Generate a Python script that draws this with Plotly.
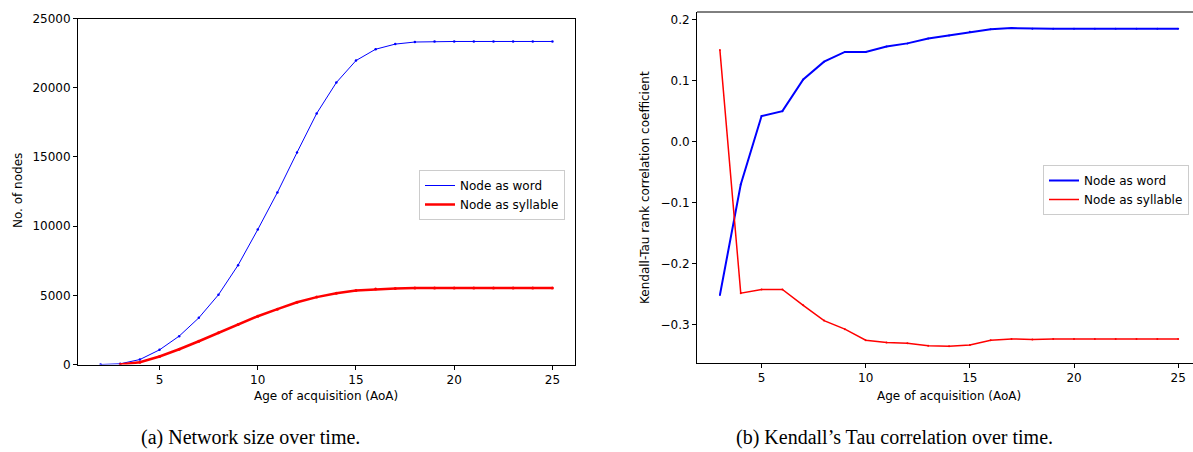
import plotly.graph_objects as go

W, H = 1193, 452

# ---- data ----
age_word = list(range(2, 26))
nodes_word = [0, 50, 360, 1060, 2050, 3370, 5040, 7180, 9750, 12430, 15320, 18140,
              20370, 21960, 22780, 23150, 23300, 23340, 23340, 23340, 23340, 23340,
              23340, 23340]
age_syl = list(range(3, 26))
nodes_syl = [0, 170, 580, 1100, 1680, 2290, 2890, 3490, 4000, 4500, 4870, 5150,
             5350, 5450, 5500, 5520, 5530, 5530, 5530, 5530, 5530, 5530, 5530]

age_tau = list(range(3, 26))
tau_word = [-0.251, -0.070, 0.042, 0.050, 0.102, 0.131, 0.147, 0.147, 0.156, 0.161,
            0.169, 0.174, 0.180, 0.184, 0.186, 0.185, 0.185, 0.185, 0.185, 0.185,
            0.185, 0.185, 0.185]
tau_syl = [0.150, -0.248, -0.242, -0.242, -0.268, -0.293, -0.307, -0.325, -0.329,
           -0.330, -0.334, -0.335, -0.333, -0.325, -0.323, -0.324, -0.323, -0.323,
           -0.323, -0.323, -0.323, -0.323, -0.323]

left_yticks = [0, 5000, 10000, 15000, 20000, 25000]
left_yticklabels = ["0", "5000", "10000", "15000", "20000", "25000"]
xticks = [5, 10, 15, 20, 25]
right_yticks = [-0.3, -0.2, -0.1, 0.0, 0.1, 0.2]

BLUE = "#0000ff"
RED = "#ff0000"
FONT = "DejaVu Sans"

def px(x):
    return x / W

def py(y):
    return 1 - y / H

fig = go.Figure()

def add_series(x, y, name, color, lw, ms, xa, ya, leg):
    fig.add_trace(go.Scatter(x=x, y=y, name=name, mode="lines",
                             line=dict(color=color, width=lw),
                             xaxis=xa, yaxis=ya, legend=leg))
    fig.add_trace(go.Scatter(x=x, y=y, name=name, mode="markers", showlegend=False,
                             marker=dict(size=ms, color=color),
                             xaxis=xa, yaxis=ya, legend=leg))

add_series(age_word, nodes_word, "Node as word", BLUE, 1, 2.5, "x", "y", "legend")
add_series(age_syl, nodes_syl, "Node as syllable", RED, 2.5, 3, "x", "y", "legend")
add_series(age_tau, tau_word, "Node as word", BLUE, 2, 2, "x2", "y2", "legend2")
add_series(age_tau, tau_syl, "Node as syllable", RED, 1.5, 2, "x2", "y2", "legend2")

axis_common = dict(showgrid=False, zeroline=False, showline=True, linecolor="black",
                   linewidth=1, ticks="outside", ticklen=4, tickcolor="black",
                   automargin=False,
                   tickfont=dict(family=FONT, size=12, color="black"))

# left panel: x 78..575 px, y 18.5..364.5 px
fig.update_layout(
    xaxis=dict(domain=[px(78), px(575)], range=[0.85, 26.15], tickvals=xticks,
               anchor="y", mirror=True, **axis_common),
    yaxis=dict(domain=[py(364.5), py(18.5)], range=[0, 25000], tickvals=left_yticks,
               ticktext=left_yticklabels, anchor="x", mirror=True, **axis_common),
    # right panel: x 697..(1201, cropped) px, y 12..363 px
    xaxis2=dict(domain=[px(697), 1.0], range=[1.9, 1.9 + (W - 697) / 20.83], tickvals=xticks,
                anchor="y2", mirror=False, **axis_common),
    yaxis2=dict(domain=[py(362.5), py(12)], range=[-0.3616, 0.2124], tickvals=right_yticks,
                tickformat=".1f", anchor="x2", **axis_common),
)
# top spine for right panel
fig.add_shape(type="line", xref="paper", yref="paper", x0=px(697), x1=1.0,
              y0=py(12), y1=py(12), line=dict(color="black", width=1))

legend_common = dict(bgcolor="rgba(255,255,255,0.8)", bordercolor="#cccccc", borderwidth=1,
                     font=dict(family=FONT, size=12, color="black"),
                     xanchor="left", yanchor="top", tracegroupgap=0, itemwidth=30)
fig.update_layout(
    legend=dict(x=px(419), y=py(170), **legend_common),
    legend2=dict(x=px(1043), y=py(165), **legend_common),
)

anns = [
    dict(text="Age of acquisition (AoA)", x=px(326), y=py(396)),
    dict(text="Age of acquisition (AoA)", x=px(949), y=py(396)),
    dict(text="No. of nodes", x=px(18), y=py(191), textangle=-90),
    dict(text="Kendall-Tau rank correlation coefficient", x=px(645), y=py(188), textangle=-90),
]
for a in anns:
    fig.add_annotation(xref="paper", yref="paper", showarrow=False, xanchor="center",
                       yanchor="middle", font=dict(family=FONT, size=12, color="black"), **a)

caps = [
    dict(text="(a) Network size over time.", x=px(250), y=py(437)),
    dict(text="(b) Kendall’s Tau correlation over time.", x=px(894), y=py(437)),
]
for a in caps:
    fig.add_annotation(xref="paper", yref="paper", showarrow=False, xanchor="center",
                       yanchor="middle", font=dict(family="Liberation Serif", size=20, color="black"), **a)

fig.update_layout(width=W, height=H, margin=dict(l=0, r=0, t=0, b=0),
                  plot_bgcolor="white", paper_bgcolor="white", showlegend=True)

fig.write_html("out.html")
